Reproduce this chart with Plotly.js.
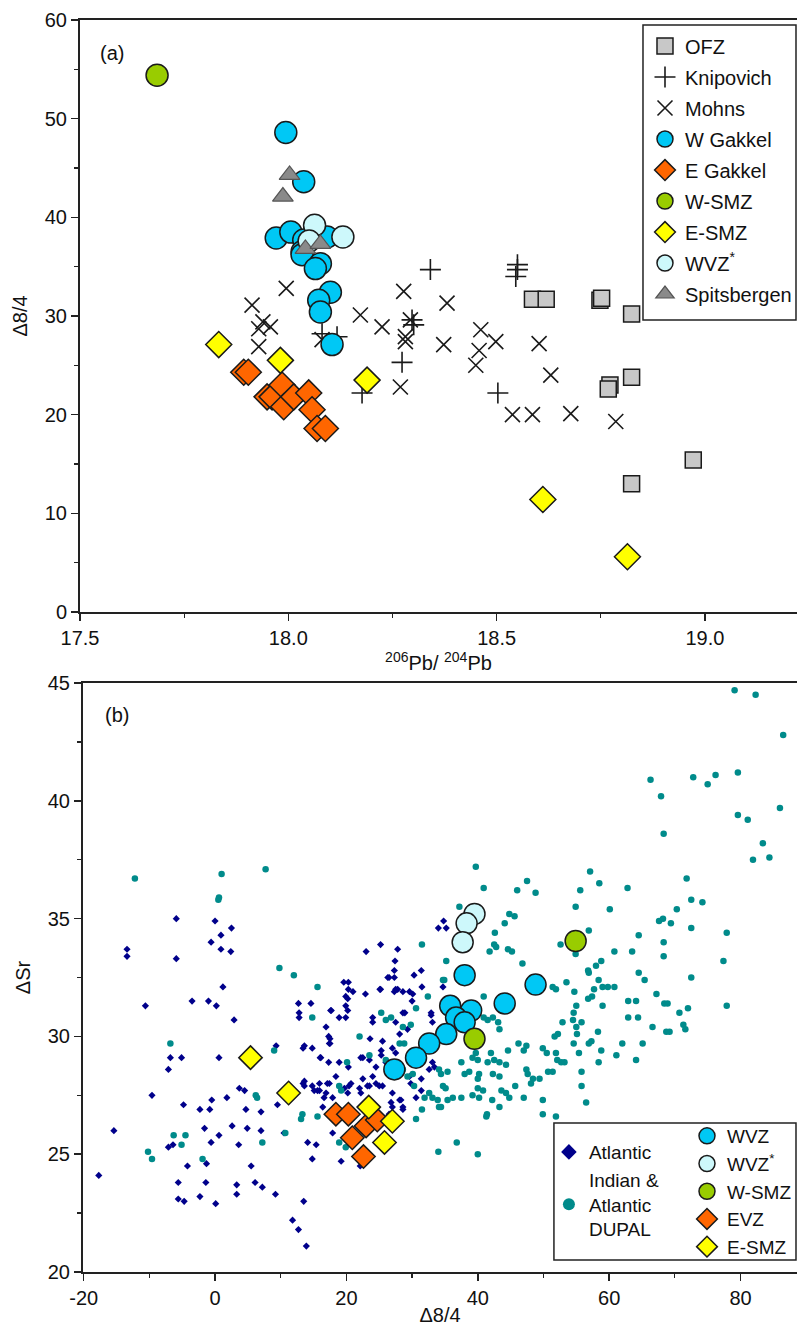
<!DOCTYPE html>
<html><head><meta charset="utf-8">
<script src="https://cdn.plot.ly/plotly-3.0.1.min.js"></script>
<style>html,body{margin:0;padding:0;background:#fff}#chart{width:797px;height:1331px}</style>
</head><body><div id="chart"></div>
<script>
// ---------- Panel (a): 206Pb/204Pb vs Δ8/4 ----------
const ofzX   = [18.586,18.619,18.748,18.752,18.824,18.824,18.772,18.768,18.972,18.824];
const ofzY   = [31.7,31.7,31.6,31.8,30.2,23.8,23.0,22.6,15.4,13.0];
const knipX  = [18.341,18.550,18.550,18.546,18.301,18.297,18.273,18.503,18.081,18.117,18.177];
const knipY  = [34.7,35.2,34.7,34.0,29.1,29.6,25.3,22.2,28.2,27.9,22.2];
const mohnsX = [17.995,17.913,17.939,17.957,17.929,17.929,18.081,18.173,18.225,18.277,18.381,18.281,18.281,
                18.293,18.373,18.462,18.498,18.458,18.450,18.602,18.630,18.269,18.538,18.586,18.678,18.786];
const mohnsY = [32.8,31.1,29.4,28.9,28.7,26.9,27.6,30.1,28.9,32.5,31.3,27.9,27.4,
                29.6,27.1,28.6,27.4,26.5,25.0,27.2,24.0,22.8,20.0,20.0,20.1,19.3];
const wGakX  = [17.994,18.037,17.971,18.006,18.037,18.093,18.033,18.033,18.077,18.065,18.101,18.073,18.077,18.105];
const wGakY  = [48.6,43.6,37.9,38.5,37.7,38.0,36.5,36.2,35.3,34.8,32.4,31.6,30.4,27.1];
const eGakX  = [17.893,17.904,17.949,17.961,17.985,17.989,18.013,18.049,18.057,18.069,18.089];
const eGakY  = [24.3,24.3,21.8,21.8,23.0,20.8,21.8,22.2,20.5,18.6,18.6];
const wSmzAX = [17.685];
const wSmzAY = [54.4];
const eSmzAX = [17.833,17.981,18.189,18.611,18.814];
const eSmzAY = [27.1,25.5,23.5,11.4,5.6];
const wvzsAX = [18.063,18.131,18.050];
const wvzsAY = [39.2,38.0,37.6];
const spitX  = [18.003,17.987,18.041,18.077];
const spitY  = [44.3,42.1,36.8,37.3];

// ---------- Panel (b): Δ8/4 vs ΔSr ----------
const atlX = [-13.4,-13.4,-5.9,-5.9,0.0,2.5,0.9,-0.6,0.9,2.4,
  23.0,25.2,27.4,27.8,-10.6,-3.5,-1.0,0.2,1.2,2.9,
  -6.8,-5.1,-7.1,0.6,-9.6,-4.8,-2.3,-0.8,-0.5,1.8,
  3.7,4.5,4.7,7.0,9.5,-15.4,-1.6,0.6,2.6,4.9,
  7.0,10.5,-7.1,-6.4,-0.6,3.6,-4.2,-1.3,-17.7,-5.6,
  -1.4,3.3,5.5,6.1,7.2,-5.6,-4.7,-2.3,0.1,3.3,
  9.2,13.5,11.8,12.7,13.9,13.4,14.8,14.1,15.4,14.8,
  19.2,22.1,13.4,14.8,16.1,17.3,18.9,20.3,18.4,17.1,
  15.9,17.9,16.6,20.4,22.0,23.5,12.7,14.6,12.8,17.7,
  16.9,18.9,20.2,20.2,19.6,20.3,22.9,25.2,24.0,23.6,
  22.2,23.5,17.5,17.5,26.5,27.3,27.3,26.3,31.4,30.3,
  34.8,34.0,35.2,27.5,29.6,30.0,31.5,25.1,20.3,21.0,
  19.9,19.9,19.9,17.6,12.8,17.3,17.4,13.6,16.0,9.3,
  24.0,28.9,27.5,29.3,28.1,32.9,33.1,25.3,25.3,22.5,
  24.5,26.0,24.0,22.5,20.7,19.7,17.4,15.9,13.6,13.6,
  15.6,16.9,20.2,22.2,23.2,24.5,25.5,27.0,28.3,26.8,
  28.6,26.5,29.8,31.4,34.7,32.9,33.1,33.4,27.3,27.8,
  28.6,30.1,28.6,25.5,27.0,27.5,32.6,29.6,25.0,28.1,
  28.6,27.0,30.6,31.4,17.9,16.4,15.1];
const atlY = [33.7,33.4,35.0,33.3,34.9,34.6,34.3,34.0,33.7,33.6,
  33.6,33.9,33.2,33.7,31.3,31.5,31.5,31.3,32.1,30.7,
  29.1,29.1,28.6,29.1,27.5,27.1,26.9,26.9,27.3,27.4,
  27.8,27.7,26.9,26.8,27.1,26.0,26.1,25.8,26.2,26.1,
  26.0,25.9,25.3,25.4,25.5,25.4,24.5,24.6,24.1,23.8,
  23.8,23.7,24.5,23.8,23.6,23.1,23.0,23.2,22.9,23.3,
  23.3,23.0,22.2,21.8,21.1,28.0,27.9,25.5,25.4,24.8,
  24.7,24.5,29.5,29.5,29.1,28.9,28.9,28.7,28.3,28.0,
  27.7,27.4,27.4,27.9,27.8,27.9,31.4,31.4,30.8,31.1,
  30.4,30.8,31.1,31.6,32.3,32.0,31.8,32.0,30.8,29.9,
  29.1,29.0,29.9,29.7,32.5,31.9,32.8,32.5,32.8,32.6,
  34.9,34.6,34.6,32.0,31.9,31.5,32.1,32.0,32.3,31.9,
  31.7,31.3,30.8,31.1,31.0,30.0,29.7,29.6,29.1,29.6,
  30.6,31.0,30.6,30.3,30.1,31.0,30.6,29.4,29.2,29.1,
  28.7,28.9,28.3,28.2,28.0,27.8,28.0,28.0,28.1,27.9,
  27.7,27.6,27.6,27.6,27.9,28.0,27.9,27.6,27.3,27.2,
  26.9,26.7,28.0,28.2,32.1,30.9,28.9,28.7,32.5,32.0,
  31.9,31.8,31.0,29.8,29.5,29.3,28.6,28.3,27.9,27.3,
  27.0,27.0,27.4,27.7,25.9,27.0,27.7];

const dupX = [-12.2,1.0,0.6,0.5,7.7,9.8,79.1,82.3,86.5,66.3,
  67.9,68.3,72.8,76.2,75.0,79.6,86.0,79.6,81.1,83.4,
  81.9,84.4,39.7,40.9,57.1,58.5,55.6,62.8,47.5,46.0,
  48.8,71.8,54.9,60.1,37.2,44.8,45.6,44.1,70.3,72.5,
  74.2,68.2,67.6,69.4,72.5,77.9,56.9,64.5,42.6,31.5,
  42.5,42.8,41.8,44.6,45.2,52.6,68.3,60.8,63.5,68.3,
  77.4,35.2,46.8,54.9,58.8,58.0,56.8,64.5,65.4,34.9,
  53.5,51.4,51.9,59.0,59.8,60.8,57.7,67.2,54.7,57.4,
  56.8,40.9,59.0,62.9,64.1,55.0,54.6,40.9,41.5,42.3,
  43.1,43.3,52.9,54.5,55.8,55.0,58.3,62.9,64.4,66.6,
  52.2,51.7,55.1,57.3,56.9,54.6,62.0,65.1,46.2,47.4,
  47.0,44.6,49.9,50.5,51.9,58.8,61.1,64.1,55.4,52.1,
  53.2,52.7,58.4,37.5,39.2,40.0,39.7,42.0,42.5,41.5,
  43.3,44.3,34.1,34.4,38.0,38.7,40.2,40.0,42.3,43.3,
  47.4,47.6,48.4,48.1,49.4,50.7,51.4,55.8,55.8,45.7,
  40.0,40.8,43.6,44.3,44.8,35.1,39.2,40.2,42.2,43.3,
  47.0,49.9,56.5,33.1,33.9,35.4,36.2,37.5,34.4,41.3,
  49.9,51.9,36.8,34.0,40.0,41.4,72.5,68.4,68.9,70.7,
  72.0,77.9,68.7,69.2,71.3,71.6,58.4,56.9,12.0,15.6,
  14.8,22.0,20.1,23.5,25.3,26.0,26.8,-6.8,9.0,6.2,
  6.4,13.3,13.1,15.6,-6.3,-4.5,-5.1,-10.2,-9.6,-1.9,
  7.2,10.7,18.9,19.9,19.2,34.7,32.4,30.6,28.6,29.8,
  28.1,28.8,26.0,28.6,29.3,30.1,30.3,32.6,34.1,31.9,
  31.5,30.6,34.7,35.4,18.9,24.5,25.0,20.7];
const dupY = [36.7,36.9,35.9,35.8,37.1,32.9,44.7,44.5,42.8,40.9,
  40.2,38.6,41.0,41.1,40.7,41.2,39.7,39.4,39.2,38.2,
  37.5,37.6,37.2,36.3,37.0,36.5,36.2,36.3,36.6,36.2,
  36.1,36.7,35.5,35.4,35.5,35.2,35.1,34.8,35.4,35.8,
  35.7,35.0,34.9,34.8,34.6,34.4,34.5,34.3,34.4,33.9,
  33.9,33.8,33.6,33.7,33.6,33.9,34.0,33.6,33.6,33.4,
  33.2,33.2,33.1,33.5,33.2,33.0,32.8,32.7,32.4,32.4,
  32.3,32.1,32.0,32.1,32.1,32.1,32.0,31.8,31.9,31.7,
  31.6,31.7,31.3,31.5,31.5,31.3,31.0,30.8,30.7,30.8,
  30.6,30.3,30.6,30.7,30.6,30.4,30.2,30.8,30.8,30.4,
  30.1,30.0,30.1,29.8,29.7,29.7,29.7,29.7,29.7,29.6,
  29.4,29.4,29.5,29.3,29.3,29.4,29.2,29.0,29.3,29.0,
  28.9,28.9,28.9,28.9,29.1,29.0,29.3,29.3,29.0,28.9,
  28.9,28.8,28.6,28.4,28.4,28.5,28.4,28.2,28.4,28.3,
  28.6,28.4,28.2,28.0,28.2,28.5,28.5,28.5,27.9,27.9,
  27.8,27.7,27.7,27.6,27.4,27.8,27.5,27.4,27.3,27.0,
  27.4,27.3,27.2,27.4,27.3,27.3,27.4,27.4,27.0,26.6,
  26.7,26.6,25.5,25.1,25.0,26.7,32.5,31.4,31.4,31.0,
  31.2,31.3,30.2,30.2,30.5,30.3,32.4,32.7,32.6,32.1,
  30.8,30.0,28.9,29.2,31.0,30.7,30.8,29.7,29.4,27.5,
  27.4,26.7,26.5,26.6,25.8,25.8,25.4,25.1,24.8,24.8,
  25.5,25.9,25.5,25.3,27.7,32.4,31.7,31.2,30.4,30.5,
  29.7,29.7,29.0,28.6,28.3,28.4,27.9,27.6,27.0,27.4,
  26.9,26.5,27.9,28.5,27.9,26.7,26.5,26.7];

const wvzX   = [38.0,48.8,44.1,35.8,39.0,36.7,38.0,35.2,32.6,30.6,27.3];
const wvzY   = [32.6,32.2,31.4,31.3,31.1,30.8,30.6,30.1,29.7,29.1,28.6];
const wvzsBX = [39.5,38.3,37.7];
const wvzsBY = [35.2,34.8,34.0];
const wSmzBX = [54.9,39.5];
const wSmzBY = [34.05,29.9];
const evzX   = [18.4,20.3,20.9,23.0,22.6,24.7];
const evzY   = [26.7,26.7,25.7,26.2,24.9,26.45];
const eSmzBX = [5.4,11.2,23.4,27.0,25.8];
const eSmzBY = [29.1,27.6,27.0,26.4,25.5];

// tick labels of panel (b) x axis (hyphen minus as in the original)
const bTickVals = [-20,0,20,40,60,80];
const bTickText = ['-20','0','20','40','60','80'];

// ---------- styles ----------
const FONT = 'Liberation Sans, Arial, Helvetica, sans-serif';
const INK = '#1a1a1a';
const C_BLUE = '#00c8f5', C_ORANGE = '#ff6600', C_GREEN = '#99cc00',
      C_YELLOW = '#ffff00', C_PALE = '#cdf8fb', C_GREY = '#c8c8c8', C_TRI = '#8a8a8a';

function pts(x, y, name, sym, size, color, ax, leg, lineCol, lw) {
  return {type:'scatter', mode:'markers', x:x, y:y, name:name,
    xaxis: ax[0], yaxis: ax[1], legend: leg, legendgroup: leg + '_' + sym + '_' + color,
    marker:{symbol:sym, size:size, color:color, line:{color: lineCol || INK, width: lw === undefined ? 1.5 : lw}}};
}
const A = ['x','y'], B = ['x2','y2'];

const traces = [
  pts(ofzX, ofzY, 'OFZ', 'square', 16, C_GREY, A, 'legend'),
  pts(knipX, knipY, 'Knipovich', 'cross-thin-open', 15, INK, A, 'legend', INK, 1.6),
  pts(mohnsX, mohnsY, 'Mohns', 'x-thin-open', 15, INK, A, 'legend', INK, 1.6),
  pts(wGakX, wGakY, 'W Gakkel', 'circle', 22, C_BLUE, A, 'legend'),
  pts(eGakX, eGakY, 'E Gakkel', 'diamond', 20, C_ORANGE, A, 'legend'),
  pts(wSmzAX, wSmzAY, 'W-SMZ', 'circle', 22, C_GREEN, A, 'legend'),
  pts(eSmzAX, eSmzAY, 'E-SMZ', 'diamond', 20, C_YELLOW, A, 'legend'),
  pts(wvzsAX, wvzsAY, 'WVZ<sup>*</sup>', 'circle', 22, C_PALE, A, 'legend'),
  pts(spitX, spitY, 'Spitsbergen', 'triangle-up', 18, C_TRI, A, 'legend', '#555555', 1.2),

  pts(atlX, atlY, 'Atlantic', 'diamond', 5.5, '#00008b', B, 'legend2', '#00008b', 0),
  pts(dupX, dupY, 'Indian &amp;<br>Atlantic<br>DUPAL', 'circle', 6.5, '#008b8b', B, 'legend2', '#008b8b', 0),
  pts(wvzX, wvzY, 'WVZ', 'circle', 21, C_BLUE, B, 'legend3'),
  pts(wvzsBX, wvzsBY, 'WVZ<sup>*</sup>', 'circle', 21, C_PALE, B, 'legend3'),
  pts(wSmzBX, wSmzBY, 'W-SMZ', 'circle', 21, C_GREEN, B, 'legend3'),
  pts(evzX, evzY, 'EVZ', 'diamond', 18, C_ORANGE, B, 'legend3'),
  pts(eSmzBX, eSmzBY, 'E-SMZ', 'diamond', 18, C_YELLOW, B, 'legend3')
];

const axisBase = {
  showgrid:false, zeroline:false, showline:true, linecolor:'#222', linewidth:2,
  ticks:'outside', ticklen:7, tickwidth:1.5, tickcolor:'#222',
  tickfont:{family:FONT, size:20, color:'#111'}
};
function ax(extra) { return Object.assign({}, axisBase, extra); }
const minorStyle = {ticks:'outside', ticklen:4, tickwidth:1.3, tickcolor:'#222'};

const layout = {
  width:797, height:1331,
  margin:{l:80, r:0, t:20, b:59},
  paper_bgcolor:'#fff', plot_bgcolor:'#fff',
  font:{family:FONT, color:'#111'},
  showlegend:true,
  xaxis: ax({domain:[0,1], anchor:'y', range:[17.5,19.221], tick0:17.5, dtick:0.5, tickformat:'.1f',
    mirror:true, minor:Object.assign({dtick:0.25}, minorStyle),
    title:{text:'<sup>206</sup>Pb/ <sup>204</sup>Pb', font:{family:FONT, size:20, color:'#111'}, standoff:0}}),
  yaxis: ax({domain:[0.5272,1], anchor:'x', range:[0,60], dtick:10,
    minor:Object.assign({dtick:5}, minorStyle),
    title:{text:'Δ8/4', font:{family:FONT, size:20, color:'#111'}, standoff:12}}),
  xaxis2: ax({domain:[0.0042,1], anchor:'y2', range:[-20.1,88.6], tickmode:'array',
    tickvals:bTickVals, ticktext:bTickText, mirror:true,
    minor:Object.assign({dtick:10, tick0:0}, minorStyle),
    title:{text:'Δ8/4', font:{family:FONT, size:20, color:'#111'}, standoff:0}}),
  yaxis2: ax({domain:[0,0.4704], anchor:'x2', range:[20,45], dtick:5,
    minor:Object.assign({dtick:2.5}, minorStyle),
    title:{text:'ΔSr', font:{family:FONT, size:20, color:'#111'}, standoff:12}}),
  legend: {x:0.788, y:0.9948, xanchor:'left', yanchor:'top', bgcolor:'rgba(0,0,0,0)', borderwidth:0,
    font:{family:FONT, size:20, color:'#111'}, tracegroupgap:2, itemsizing:'trace'},
  legend2:{x:0.654, y:0.111, xanchor:'left', yanchor:'top', bgcolor:'rgba(0,0,0,0)', borderwidth:0,
    font:{family:FONT, size:19, color:'#111'}, tracegroupgap:0, itemsizing:'constant'},
  legend3:{x:0.8466, y:0.1238, xanchor:'left', yanchor:'top', bgcolor:'rgba(0,0,0,0)', borderwidth:0,
    font:{family:FONT, size:19, color:'#111'}, tracegroupgap:0, itemsizing:'trace'},
  shapes:[
    {type:'rect', xref:'paper', yref:'paper', x0:0.7852, x1:0.9986, y0:0.7604, y1:0.996,
     line:{color:'#222', width:1.5}, fillcolor:'rgba(255,255,255,0.9)', layer:'above'},
    {type:'rect', xref:'paper', yref:'paper', x0:0.661, x1:0.9986, y0:0.0096, y1:0.119,
     line:{color:'#222', width:1.5}, fillcolor:'rgba(255,255,255,1)', layer:'above'}
  ],
  annotations:[
    {text:'(a)', xref:'paper', yref:'paper', x:0.045, y:0.974, showarrow:false,
     xanchor:'center', yanchor:'middle', font:{family:FONT, size:20, color:'#111'}},
    {text:'(b)', xref:'paper', yref:'paper', x:0.052, y:0.445, showarrow:false,
     xanchor:'center', yanchor:'middle', font:{family:FONT, size:20, color:'#111'}}
  ]
};

Plotly.newPlot('chart', traces, layout, {staticPlot:true, displayModeBar:false});
</script>
</body></html>
